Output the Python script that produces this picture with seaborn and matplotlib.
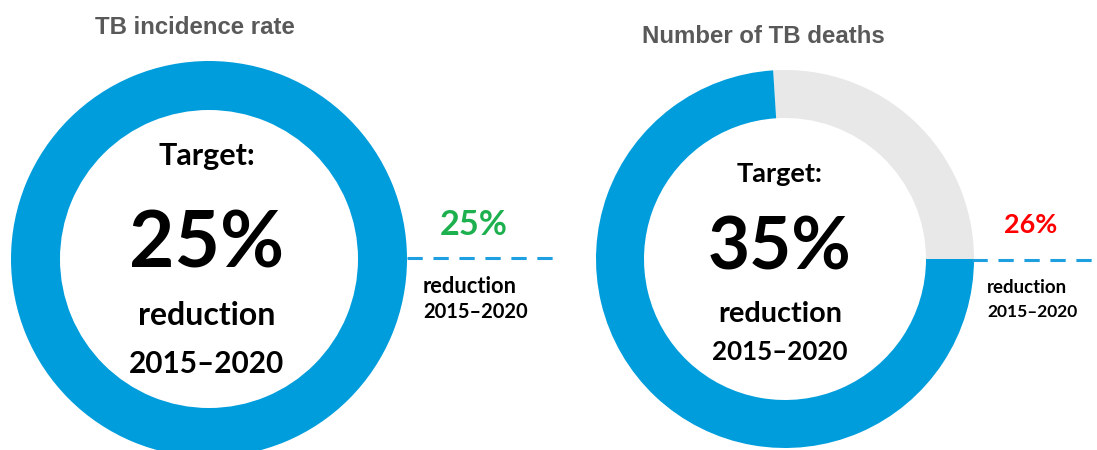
import matplotlib
matplotlib.use("Agg")
import matplotlib.pyplot as plt
import seaborn as sns

# ---- data ----
titles = ["TB incidence rate", "Number of TB deaths"]
targets = [25, 35]            # target reduction (%)
achieved = [25, 26]           # achieved reduction (%)
ring_shares = [[100, 0], [74, 26]]   # [blue share, gray share] of each ring
period = "2015\u20132020"
achieved_colors = ["#1db04f", "#ff0000"]

BLUE = "#009ddc"
GRAY = "#e8e8e8"
TITLE_C = "#595959"

sns.set_theme(style="white")
plt.rcParams["font.family"] = ["Lato", "DejaVu Sans"]

W, H = 1097, 450
fig = plt.figure(figsize=(W / 100, H / 100), dpi=100)
ax = fig.add_axes([0, 0, 1, 1])

# layout (image pixel coordinates)
rings = [dict(cx=209, cy=259, r=198, w=49), dict(cx=785, cy=259, r=189, w=48)]

for i, g in enumerate(rings):
    blue, gray = ring_shares[i]
    vals = [gray, blue] if gray > 0 else [blue]
    cols = [GRAY, BLUE] if gray > 0 else [BLUE]
    ax.pie(vals, colors=cols, startangle=0, counterclock=True,
           center=(g["cx"], H - g["cy"]), radius=g["r"],
           wedgeprops=dict(width=g["w"], linewidth=0, edgecolor="none"))

ax.set_xlim(0, W)
ax.set_ylim(0, H)
ax.set_aspect("equal")
ax.axis("off")

fig.canvas.draw()
renderer = fig.canvas.get_renderer()


def put(x, y, s, width, ha="center", color="black", family=None, weight="bold", size=20):
    kw = {}
    if family:
        kw["family"] = family
    t = ax.text(x, H - y, s, ha=ha, va="baseline", color=color,
                fontweight=weight, fontsize=size, **kw)
    bb = t.get_window_extent(renderer)
    t.set_fontsize(size * width / bb.width)
    return t


# titles
put(195, 34, titles[0], 200, color=TITLE_C, family=["Liberation Sans", "DejaVu Sans"])
put(763, 43, titles[1], 243, color=TITLE_C, family=["Liberation Sans", "DejaVu Sans"])

# centre texts
centre = [
    dict(x=207, tgt=(165, 97), pct=(267, 155), red=(325, 137), per=(373, 155)),
    dict(x=780, tgt=(182, 86), pct=(270, 144), red=(322, 124), per=(360, 135)),
]
for i, c in enumerate(centre):
    put(c["x"], c["tgt"][0], "Target:", c["tgt"][1])
    put(c["x"], c["pct"][0], f"{targets[i]}%", c["pct"][1])
    put(c["x"], c["red"][0], "reduction", c["red"][1])
    put(c["x"], c["per"][0], period, c["per"][1])

# side annotations
side = [
    dict(x0=407, x1=553, ly=258, px=474, py=235, pw=68, tx=423, r1=293, r2=318, rw=94, pw2=105),
    dict(x0=972, x1=1097, ly=260, px=1031, py=233, pw=53, tx=987, r1=293, r2=317, rw=80, pw2=91),
]
for i, s in enumerate(side):
    ax.plot([s["x0"], s["x1"]], [H - s["ly"], H - s["ly"]], color="#1e9fe0",
            lw=2.2, ls=(0, (5, 3.5)), solid_capstyle="butt", dash_capstyle="butt")
    put(s["px"], s["py"], f"{achieved[i]}%", s["pw"], color=achieved_colors[i])
    put(s["tx"], s["r1"], "reduction", s["rw"], ha="left")
    put(s["tx"], s["r2"], period, s["pw2"], ha="left")

fig.savefig("out.png", dpi=100, facecolor="white")
